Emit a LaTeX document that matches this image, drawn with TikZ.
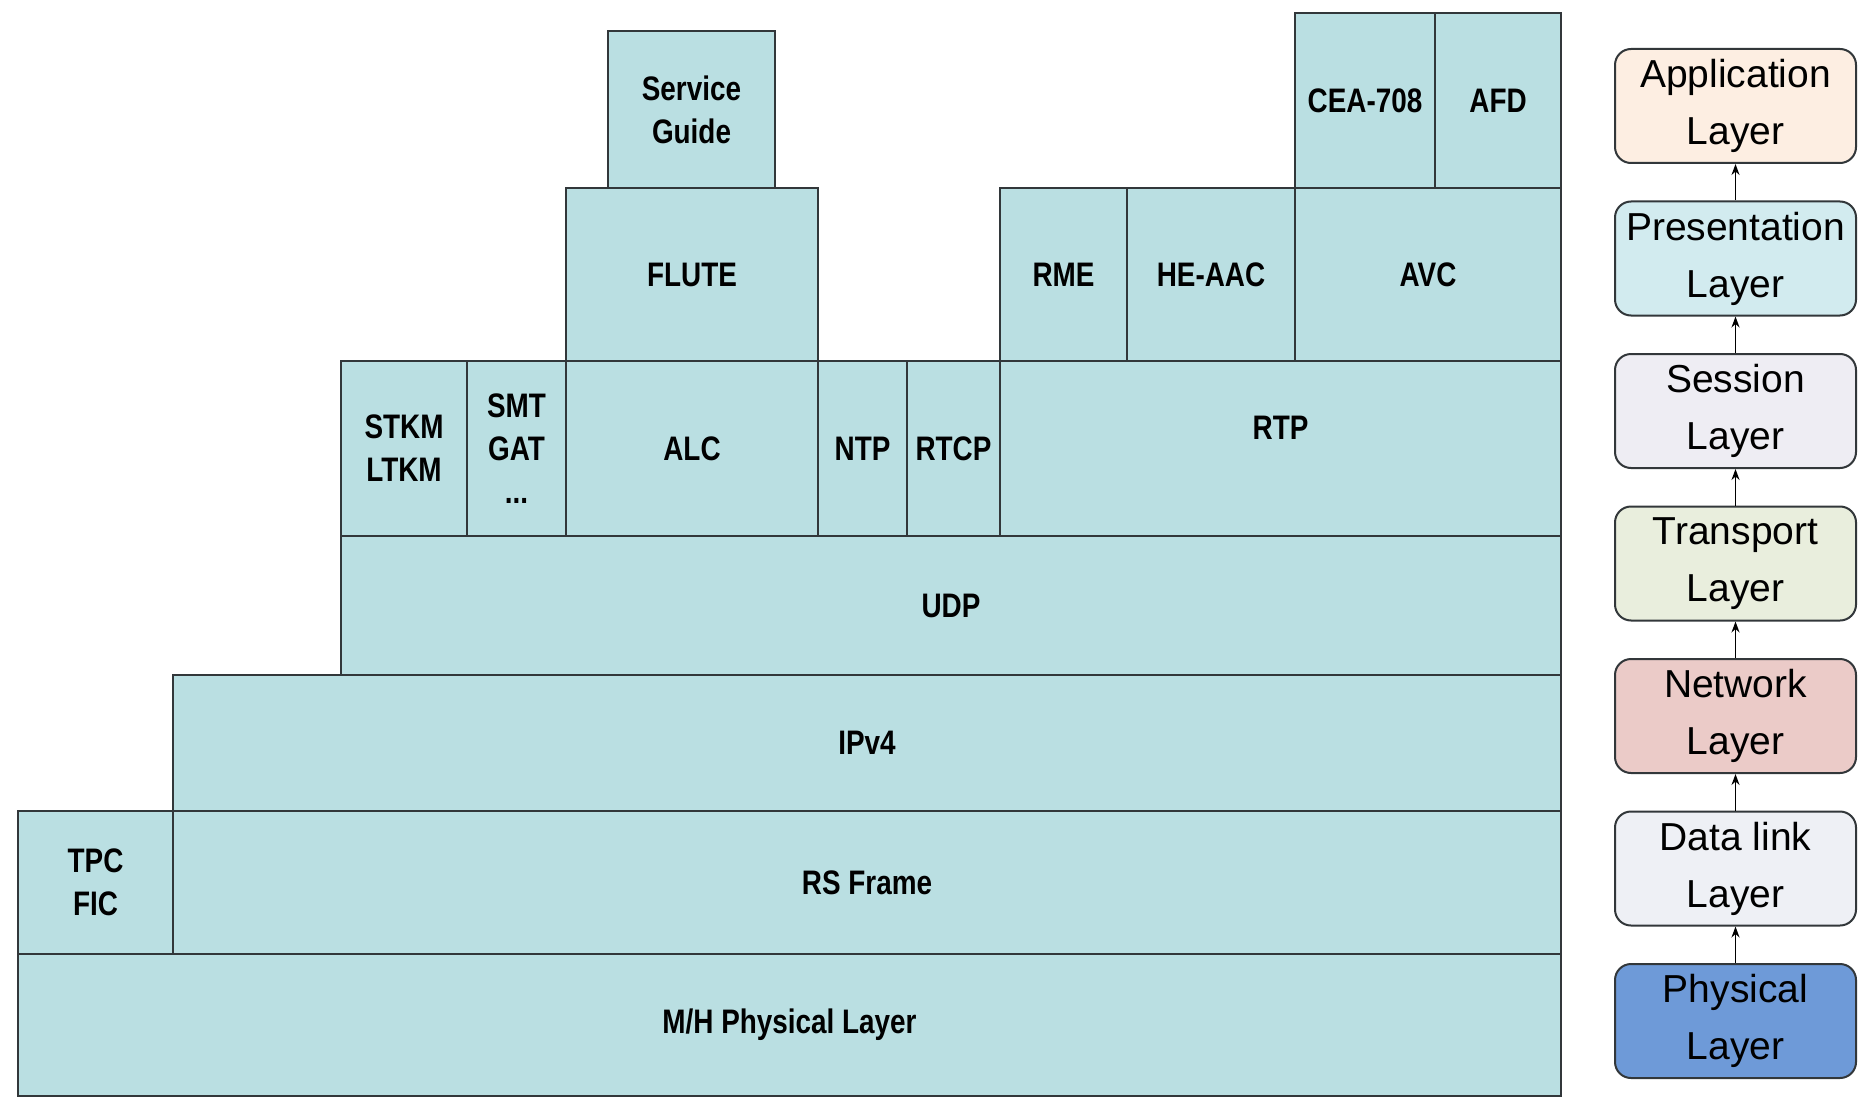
\documentclass[tikz,border=0pt]{standalone}
\usepackage{fontspec}
\setmainfont{Liberation Sans}
\newfontfamily\narrowbold{Liberation Sans}[FakeStretch=0.82]
\usetikzlibrary{arrows.meta}
\definecolor{boxfill}{RGB}{186,223,226}
\definecolor{linegray}{RGB}{50,55,58}
\definecolor{appfill}{RGB}{253,238,226}
\definecolor{presfill}{RGB}{210,235,239}
\definecolor{sessfill}{RGB}{238,237,243}
\definecolor{transfill}{RGB}{233,238,221}
\definecolor{netfill}{RGB}{235,203,200}
\definecolor{dlfill}{RGB}{238,240,245}
\definecolor{phyfill}{RGB}{110,154,216}
\tikzset{
  blk/.style={draw=linegray, fill=boxfill, line width=2pt, inner sep=0pt,
    align=center, anchor=north west,
    font=\narrowbold\bfseries\fontsize{34}{43}\selectfont},
  osi/.style={draw=linegray, line width=2pt, rounded corners=16pt, inner sep=0pt,
    align=center, anchor=north west, minimum width=241pt, minimum height=114pt,
    font=\fontsize{39}{57}\selectfont},
  uparrow/.style={-{Stealth[length=11pt,width=8pt]}, line width=1.8pt, draw=black}
}
\newcommand\blkbox[6]{\node[blk, minimum width={(#4-#2)*1pt}, minimum height={(#5-#3)*1pt}] (#1) at (#2,#3) {#6};}
\begin{document}
\begin{tikzpicture}[x=1pt,y=-1pt]
\useasboundingbox (0,0) rectangle (1865,1102);
% protocol stack
\blkbox{phy}{17}{953}{1560}{1095}{M/H Physical Layer}
\blkbox{tpc}{17}{810}{172}{953}{TPC\\FIC}
\blkbox{rs}{172}{810}{1560}{953}{RS Frame}
\blkbox{ip}{172}{674}{1560}{810}{IPv4}
\blkbox{udp}{340}{535}{1560}{674}{UDP}
\blkbox{stkm}{340}{360}{466}{535}{STKM\\LTKM}
\blkbox{smt}{466}{360}{565}{535}{SMT\\GAT\\...}
\blkbox{alc}{565}{360}{817}{535}{ALC}
\blkbox{ntp}{817}{360}{906}{535}{NTP}
\blkbox{rtcp}{906}{360}{999}{535}{RTCP}
\blkbox{rtp}{999}{360}{1560}{535}{}
\node[font=\narrowbold\bfseries\fontsize{34}{43}\selectfont] (rtptext) at ([yshift=21pt]rtp.center) {RTP};
\blkbox{flute}{565}{187}{817}{360}{FLUTE}
\blkbox{rme}{999}{187}{1126}{360}{RME}
\blkbox{heaac}{1126}{187}{1294}{360}{HE-AAC}
\blkbox{avc}{1294}{187}{1560}{360}{AVC}
\blkbox{sg}{607}{30}{774}{187}{Service\\Guide}
\blkbox{cea}{1294}{12}{1434}{187}{CEA-708}
\blkbox{afd}{1434}{12}{1560}{187}{AFD}
% OSI layers
\node[osi, fill=appfill]   (app)   at (1614,48)    {Application\\Layer};
\node[osi, fill=presfill]  (pres)  at (1614,200.5) {Presentation\\Layer};
\node[osi, fill=sessfill]  (sess)  at (1614,353)   {Session\\Layer};
\node[osi, fill=transfill] (trans) at (1614,505.5) {Transport\\Layer};
\node[osi, fill=netfill]   (net)   at (1614,658)   {Network\\Layer};
\node[osi, fill=dlfill]    (dl)    at (1614,810.5) {Data link\\Layer};
\node[osi, fill=phyfill]   (phys)  at (1614,963)   {Physical\\Layer};
\draw[uparrow] (phys.north) -- (dl.south);
\draw[uparrow] (dl.north) -- (net.south);
\draw[uparrow] (net.north) -- (trans.south);
\draw[uparrow] (trans.north) -- (sess.south);
\draw[uparrow] (sess.north) -- (pres.south);
\draw[uparrow] (pres.north) -- (app.south);
\end{tikzpicture}
\end{document}
